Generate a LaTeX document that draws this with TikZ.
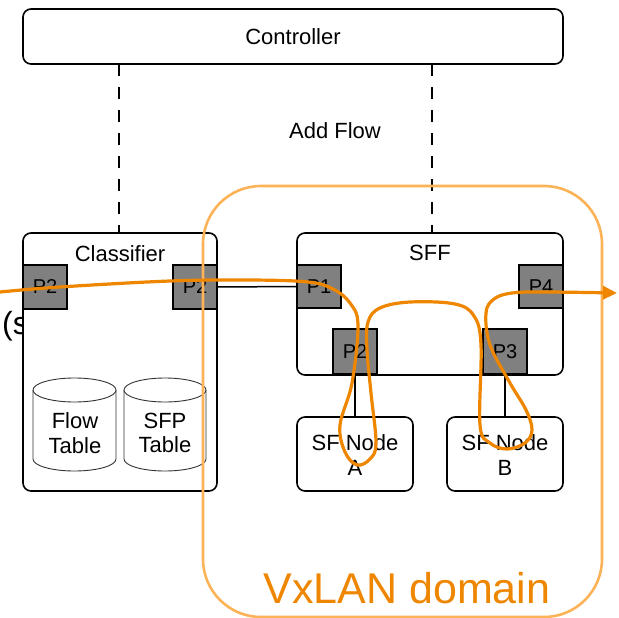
\documentclass[tikz,border=0pt]{standalone}
\usepackage{fontspec}
\setmainfont{Liberation Sans}
\usetikzlibrary{arrows.meta}
\definecolor{domorange}{RGB}{252,178,86}
\definecolor{floworange}{RGB}{238,134,0}
\definecolor{portgray}{RGB}{128,128,128}
\begin{document}
\begin{tikzpicture}[x=1pt,y=-1pt,
  box/.style={draw=black,line width=1.6pt,rounded corners=8pt,fill=white,inner sep=0pt},
  port/.style={draw=black,line width=1.3pt,fill=portgray,inner sep=0pt,minimum width=44pt,minimum height=44pt,font=\fontsize{20}{20}\selectfont},
  lbl/.style={font=\fontsize{22}{24.5}\selectfont,align=center,inner sep=0pt},
  ctrl/.style={draw=black,line width=1.8pt,dash pattern=on 12pt off 11pt},
  link/.style={draw=black,line width=1.5pt},
  cyl/.style={draw=black!80,line width=0.9pt,fill=white}]
\useasboundingbox (0,0) rectangle (619,618);
% controller
\node[box,minimum width=540pt,minimum height=55pt] (ctrl) at (293,36.5) {};
\node[lbl] (ctrltext) at (293,37) {Controller};
\node[lbl] (addflow) at (335,131) {Add Flow};
% partially hidden text on the left
\node[anchor=west,inner sep=0pt,font=\fontsize{32}{32}\selectfont] (hidden) at (2,326) {(s};
% classifier
\node[box,minimum width=194pt,minimum height=258pt] (cls) at (120,362) {};
\node[lbl] (clstext) at (120,254) {Classifier};
\node[port] (cp2a) at (45,287) {P2};
\node[port] (cp2b) at (195,287) {P2};
% cylinders
\draw[cyl] (33,390) -- (33,459) arc[start angle=180,end angle=360,x radius=41.5pt,y radius=12pt] -- (116,390);
\draw[cyl] (74.5,390) ellipse[x radius=41.5pt,y radius=12pt];
\draw[cyl] (124,390) -- (124,459) arc[start angle=180,end angle=360,x radius=41pt,y radius=12pt] -- (206,390);
\draw[cyl] (165,390) ellipse[x radius=41pt,y radius=12pt];
\node[lbl] (flowtab) at (75,433) {Flow\\Table};
\node[lbl] (sfptab) at (165,433) {SFP\\Table};
% SFF
\node[box,minimum width=266pt,minimum height=142pt] (sff) at (430,304) {};
\node[lbl] (sfftext) at (430,253) {SFF};
\node[port,minimum height=43pt] (p1) at (319,286.5) {P1};
\node[port,minimum height=43pt] (p4) at (541,286.5) {P4};
\node[port,minimum height=45pt] (p2) at (355,351.5) {P2};
\node[port,minimum height=45pt] (p3) at (505,351.5) {P3};
% SF nodes
\node[box,minimum width=116pt,minimum height=74pt] (sfa) at (355,454) {};
\node[lbl] (sfatext) at (355,455) {SF Node\\A};
\node[box,minimum width=116pt,minimum height=74pt] (sfb) at (505,454) {};
\node[lbl] (sfbtext) at (505,455) {SF Node\\B};
% links
\draw[link] (cp2b.east) -- (p1.west);
\draw[link] (p2.south) -- (sfa.north);
\draw[link] (p3.south) -- (sfb.north);
\draw[ctrl] (119,64) -- (119,233);
\draw[ctrl] (432,64) -- (432,233);
% domain
\node[draw=domorange,line width=2.6pt,rounded corners=58pt,minimum width=399pt,minimum height=431pt,inner sep=0pt] (dom) at (402.5,401.5) {};
\node[inner sep=0pt,anchor=base,text=floworange,font=\fontsize{43}{43}\selectfont] (domtext) at (407,603) {VxLAN domain};
% flow path
\draw[floworange,line width=3.2pt,line cap=round,-{Triangle[length=14pt,width=13pt]}]
  plot[smooth,tension=0.6] coordinates {
  (0,292) (60,287) (170,281) (250,280) (308,282) (333,289) (350,303) (358,325)
  (352,383) (340,425) (345,452) (357,465) (370,459) (376,443)
  (371,393) (367,350) (368,322) (380,308) (410,302) (455,304) (474,316)
  (481,345) (480,425) (490,443) (507,449) (525,443) (532,430) (526,410)
  (510,383) (490,345) (486,313) (494,299) (512,293) (545,292) (617,293)};
\end{tikzpicture}
\end{document}
